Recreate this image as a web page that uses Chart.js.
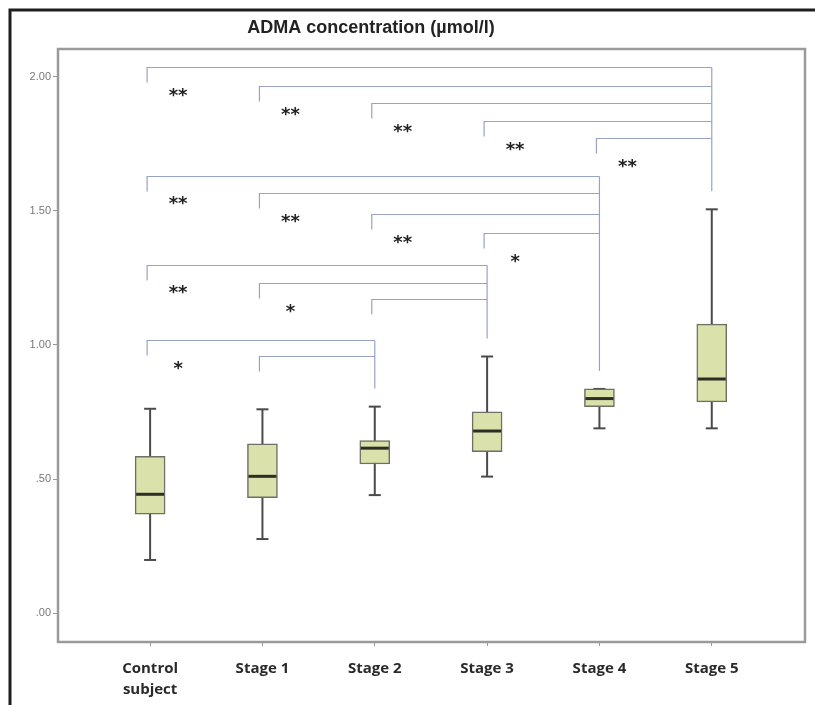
<!DOCTYPE html>
<html>
<head>
<meta charset="utf-8">
<script src="https://cdn.jsdelivr.net/npm/chart.js@4/dist/chart.umd.min.js"></script>
<style>
  body { margin: 0; background: #fff; }
  #wrap { position: relative; width: 815px; height: 705px; }
  canvas { display: block; }
</style>
</head>
<body>
<div id="wrap"><canvas id="BoxChart" width="815" height="705"></canvas></div>
<script>
// categories and box plot values
const categories = [['Control', 'subject'], 'Stage 1', 'Stage 2', 'Stage 3', 'Stage 4', 'Stage 5'];
const whiskerLow = [0.198, 0.276, 0.440, 0.509, 0.689, 0.689];
const q1 = [0.369, 0.430, 0.556, 0.602, 0.770, 0.788];
const median = [0.443, 0.510, 0.615, 0.679, 0.800, 0.873];
const q3 = [0.585, 0.631, 0.643, 0.751, 0.836, 1.078];
const whiskerHigh = [0.762, 0.760, 0.770, 0.957, 0.836, 1.506];

const yTicks = [0, 0.5, 1, 1.5, 2];
const yTickLabels = ['.00', '.50', '1.00', '1.50', '2.00'];

// significance brackets
const bracketFrom = [0, 1, 2, 3, 4, 0, 1, 2, 3, 0, 1, 2, 0, 1];
const bracketTo = [5, 5, 5, 5, 5, 4, 4, 4, 4, 3, 3, 3, 2, 2];
const bracketY = [2.037, 1.966, 1.903, 1.836, 1.772, 1.631, 1.567, 1.489, 1.418, 1.299, 1.231, 1.172, 1.019, 0.959];
const bracketMark = ['**', '**', '**', '**', '**', '**', '**', '**', '*', '**', '*', '', '*', ''];

const titleText = 'ADMA concentration (\u00b5mol/l)';

// draws whiskers, medians, brackets, frames and the title
const boxExtras = {
    id: 'boxExtras',
    beforeDatasetsDraw(chart) {
        const ctx = chart.ctx;
        const x = chart.scales.x, y = chart.scales.y;
        ctx.save();
        // whiskers (behind the boxes)
        ctx.strokeStyle = '#4a4a4a';
        ctx.lineWidth = 2;
        for (let i = 0; i < categories.length; i++) {
            const px = x.getPixelForValue(i);
            ctx.beginPath();
            ctx.moveTo(px, y.getPixelForValue(whiskerLow[i]));
            ctx.lineTo(px, y.getPixelForValue(whiskerHigh[i]));
            ctx.stroke();
            [whiskerLow[i], whiskerHigh[i]].forEach(v => {
                ctx.beginPath();
                ctx.moveTo(px - 6, y.getPixelForValue(v));
                ctx.lineTo(px + 6, y.getPixelForValue(v));
                ctx.stroke();
            });
        }
        // brackets
        ctx.strokeStyle = '#98a3c4';
        ctx.lineWidth = 1.2;
        const topOf = {};
        for (let k = 0; k < bracketFrom.length; k++) {
            const x1 = x.getPixelForValue(bracketFrom[k]) - 3;
            const x2 = x.getPixelForValue(bracketTo[k]);
            const py = Math.round(y.getPixelForValue(bracketY[k])) + 0.5;
            ctx.beginPath();
            ctx.moveTo(x1, py + 15);
            ctx.lineTo(x1, py);
            ctx.lineTo(x2, py);
            ctx.stroke();
            const t = bracketTo[k];
            topOf[t] = Math.min(topOf[t] === undefined ? 1e9 : topOf[t], py);
        }
        Object.keys(topOf).forEach(t => {
            const px = x.getPixelForValue(+t);
            ctx.beginPath();
            ctx.moveTo(px, topOf[t]);
            ctx.lineTo(px, y.getPixelForValue(whiskerHigh[t]) - 18);
            ctx.stroke();
        });
        // asterisks
        ctx.fillStyle = '#222';
        ctx.font = 'bold 18px "DejaVu Sans"';
        ctx.textAlign = 'center';
        ctx.textBaseline = 'middle';
        for (let k = 0; k < bracketFrom.length; k++) {
            if (!bracketMark[k]) continue;
            const px = x.getPixelForValue(bracketFrom[k]) + 28;
            const py = y.getPixelForValue(bracketY[k]) + 29;
            ctx.fillText(bracketMark[k], px, py);
        }
        ctx.restore();
    },
    afterDatasetsDraw(chart) {
        const ctx = chart.ctx;
        const x = chart.scales.x, y = chart.scales.y;
        ctx.save();
        // medians
        ctx.strokeStyle = '#2e2e26';
        ctx.lineWidth = 3;
        for (let i = 0; i < categories.length; i++) {
            const px = x.getPixelForValue(i);
            const py = y.getPixelForValue(median[i]);
            ctx.beginPath();
            ctx.moveTo(px - 14, py);
            ctx.lineTo(px + 14, py);
            ctx.stroke();
        }
        ctx.restore();
    },
    afterDraw(chart) {
        const ctx = chart.ctx;
        const a = chart.chartArea;
        ctx.save();
        // plot frame
        ctx.strokeStyle = '#9a9a9a';
        ctx.lineWidth = 2.5;
        ctx.strokeRect(a.left, a.top, a.right - a.left, a.bottom - a.top);
        // outer frame (left and top only)
        ctx.strokeStyle = '#1e1e1e';
        ctx.lineWidth = 3;
        ctx.beginPath();
        ctx.moveTo(10, 705);
        ctx.lineTo(10, 10);
        ctx.lineTo(815, 10);
        ctx.stroke();
        // title
        ctx.fillStyle = '#222';
        ctx.font = 'bold 18px "Liberation Sans"';
        ctx.textAlign = 'center';
        ctx.textBaseline = 'middle';
        ctx.fillText(titleText, 371, 28);
        ctx.restore();
    }
};

const ctx = document.getElementById('BoxChart').getContext('2d');
const BoxChart = new Chart(ctx, {
    type: 'bar',
    data: {
        datasets: [{
            data: categories.map((c, i) => ({ x: i, y: [q1[i], q3[i]] })),
            backgroundColor: '#dae1ab',
            borderColor: '#6f6f66',
            borderWidth: 1.5,
            borderSkipped: false,
            barThickness: 30,
        }],
    },
    options: {
        responsive: false,
        animation: false,
        layout: { padding: { top: 49, right: 10, left: 0, bottom: 0 } },
        plugins: { legend: { display: false }, tooltip: { enabled: false }, title: { display: false } },
        scales: {
            x: {
                type: 'linear',
                offset: false,
                min: -0.82,
                max: 5.83,
                afterBuildTicks: axis => { axis.ticks = categories.map((c, i) => ({ value: i })); },
                afterFit: axis => { axis.height = 63; },
                grid: { offset: false, drawOnChartArea: false, tickLength: 4, color: '#999' },
                border: { display: false },
                ticks: {
                    callback: v => categories[v],
                    color: '#2a2a2a',
                    font: { family: 'Open Sans', weight: 'bold', size: 15, lineHeight: 1.4 },
                    padding: 12,
                    maxRotation: 0,
                    autoSkip: false,
                },
            },
            y: {
                min: -0.108,
                max: 2.104,
                afterBuildTicks: axis => { axis.ticks = yTicks.map(v => ({ value: v })); },
                afterFit: axis => { axis.width = 58; },
                grid: { drawOnChartArea: false, tickLength: 5, color: '#999' },
                border: { display: false },
                ticks: {
                    callback: (v, i) => yTickLabels[i],
                    color: '#777',
                    font: { family: 'Liberation Sans', size: 11 },
                    padding: 2,
                },
            },
        },
    },
    plugins: [boxExtras],
});
</script>
</body>
</html>
